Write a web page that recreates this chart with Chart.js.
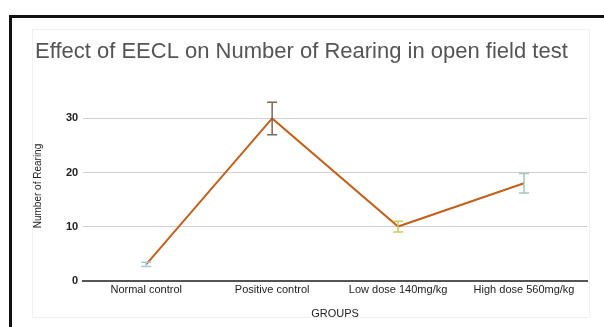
<!DOCTYPE html>
<html>
<head>
<meta charset="utf-8">
<script src="https://cdn.jsdelivr.net/npm/chart.js@4.4.1/dist/chart.umd.min.js"></script>
<style>
  html, body { margin: 0; padding: 0; background: #fff; }
  body { width: 604px; height: 327px; position: relative; overflow: hidden; font-family: "Liberation Sans", Arial, sans-serif; }
  #frame { position: absolute; left: 9px; top: 15px; width: 600px; height: 320px; border-top: 3px solid #111; border-left: 3px solid #111; box-sizing: border-box; }
  #card { position: absolute; left: 32px; top: 29px; width: 558px; height: 289px; border: 1px solid #f1f1f1; box-sizing: border-box; }
  #wrap { position: absolute; left: 0; top: 0; width: 604px; height: 327px; }
</style>
</head>
<body>
<div id="frame"></div>
<div id="card"></div>
<div id="wrap"><canvas id="c" width="604" height="327"></canvas></div>
<script>
const categories = ["Normal control", "Positive control", "Low dose 140mg/kg", "High dose 560mg/kg"];
const rearingMean = [3, 30, 10, 18];
const rearingError = [0.4, 3, 1, 1.8];
const errorColors = ["#a9c4de", "#7d6755", "#c9c95c", "#a3c7b7"];
const yTicks = [0, 10, 20, 30];

const errorBarPlugin = {
  id: 'errorBars',
  afterDatasetsDraw(chart) {
    const { ctx, scales: { x, y } } = chart;
    ctx.save();
    ctx.lineWidth = 1.5;
    rearingMean.forEach((v, i) => {
      const px = x.getPixelForValue(i);
      const top = y.getPixelForValue(v + rearingError[i]);
      const bot = y.getPixelForValue(v - rearingError[i]);
      const cap = 5;
      ctx.strokeStyle = errorColors[i];
      ctx.beginPath();
      ctx.moveTo(px, top); ctx.lineTo(px, bot);
      ctx.moveTo(px - cap, top); ctx.lineTo(px + cap, top);
      ctx.moveTo(px - cap, bot); ctx.lineTo(px + cap, bot);
      ctx.stroke();
    });
    ctx.restore();
  }
};

new Chart(document.getElementById('c'), {
  type: 'line',
  data: {
    labels: categories,
    datasets: [{
      data: rearingMean,
      borderColor: '#c2611b',
      borderWidth: 2,
      pointRadius: 0,
      tension: 0,
      fill: false
    }]
  },
  options: {
    responsive: false,
    animation: false,
    devicePixelRatio: 1,
    layout: { padding: { left: 35, right: 17, top: 28, bottom: 6 } },
    plugins: {
      legend: { display: false },
      tooltip: { enabled: false },
      title: {
        display: true,
        text: 'Effect of EECL on Number of Rearing in open field test',
        align: 'start',
        color: '#555',
        font: { family: 'Liberation Sans', size: 22, weight: 'normal' },
        padding: { top: 11, bottom: 26 }
      }
    },
    scales: {
      x: {
        type: 'category',
        offset: true,
        grid: { display: false, drawTicks: false },
        border: { display: true, color: '#555', width: 2 },
        ticks: { color: '#222', font: { family: 'Liberation Sans', size: 11 }, padding: 3, maxRotation: 0 },
        title: { display: true, text: 'GROUPS', color: '#222', font: { family: 'Liberation Sans', size: 11 }, padding: { top: 8, bottom: 0 } }
      },
      y: {
        min: 0,
        max: 35,
        afterBuildTicks(scale) { scale.ticks = yTicks.map(v => ({ value: v })); },
        grid: { color: '#d0d0d0', drawTicks: false, lineWidth: 1 },
        border: { display: false },
        ticks: { color: '#222', font: { family: 'Liberation Sans', size: 11, weight: 'bold' }, padding: 5 },
        title: { display: true, text: 'Number of Rearing', color: '#222', font: { family: 'Liberation Sans', size: 10 }, padding: { top: -3, bottom: 17 } }
      }
    }
  },
  plugins: [errorBarPlugin]
});
</script>
</body>
</html>
